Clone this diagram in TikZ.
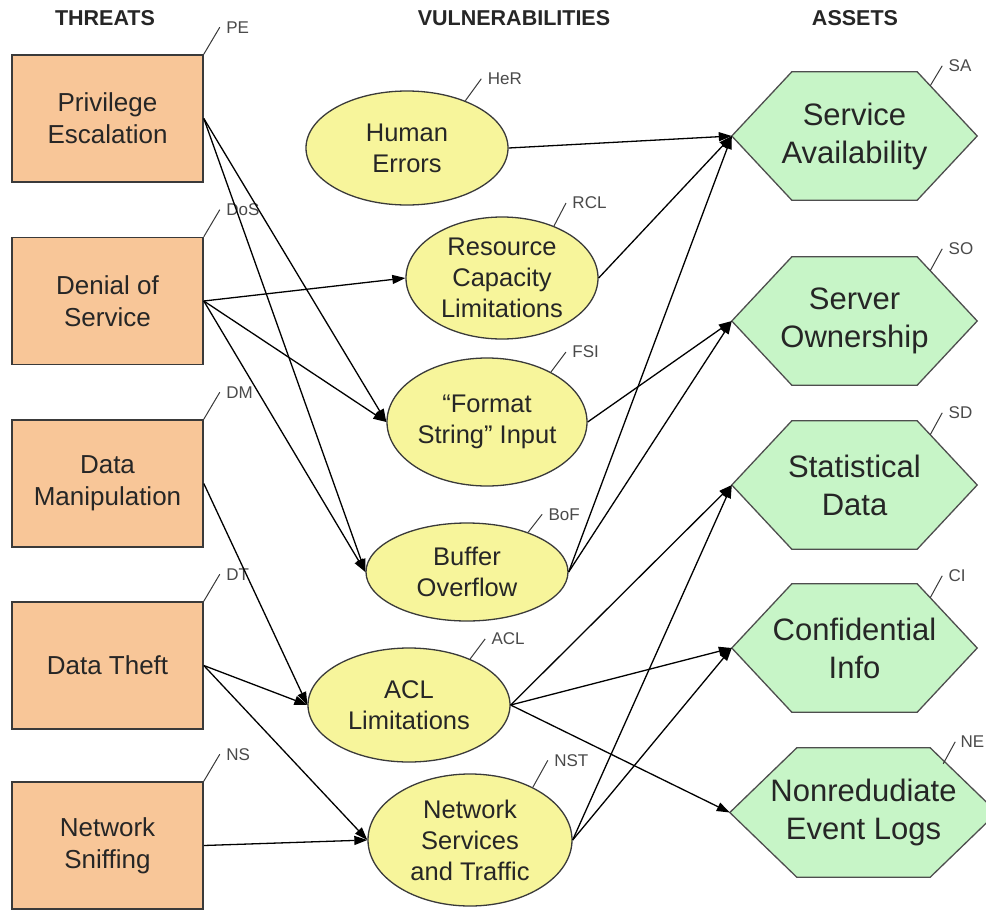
\documentclass[tikz,border=0pt]{standalone}
\usepackage{fontspec}
\setmainfont{Liberation Sans}
\usetikzlibrary{arrows.meta,backgrounds,shapes.geometric}
\definecolor{threatfill}{HTML}{F8C698}
\definecolor{vulnfill}{HTML}{F7F59B}
\definecolor{assetfill}{HTML}{C7F5C7}
\definecolor{edgegray}{HTML}{3A3A3A}
\definecolor{tagtextcol}{HTML}{4A4A4A}
\newcommand{\hexdraw}[2]{\draw[hexshape] (#1.west) -- ([xshift=#2]#1.north west) -- ([xshift=-#2]#1.north east) -- (#1.east) -- ([xshift=-#2]#1.south east) -- ([xshift=#2]#1.south west) -- cycle;}
\begin{document}
\begin{tikzpicture}[x=1pt,y=-1pt,
  threat/.style={draw=edgegray, line width=1.6pt, fill=threatfill, minimum width=191pt, minimum height=127pt, align=center, font=\fontsize{26}{32}\selectfont, inner sep=0pt, text=black!85},
  vuln/.style={ellipse, draw=edgegray, line width=1.3pt, fill=vulnfill, inner sep=-14pt, align=center, font=\fontsize{25.5}{31}\selectfont, text=black!85},
  asset/.style={minimum width=245pt, minimum height=128pt, inner sep=0pt, align=center, font=\fontsize{31}{38}\selectfont, text=black!85},
  hexshape/.style={draw=edgegray!90, line width=1.3pt, fill=assetfill},
  tagline/.style={draw=edgegray, line width=1pt},
  tagtext/.style={font=\fontsize{17}{17}\selectfont, text=tagtextcol, anchor=west, inner sep=0pt, xshift=6pt},
  header/.style={font=\bfseries\fontsize{21.5}{21.5}\selectfont, text=black!85},
  link/.style={draw=black, line width=1.3pt, -{Triangle[length=13pt,width=9pt]}},
]
\useasboundingbox (0,0) rectangle (986,911);
\begin{scope}[on background layer]
\fill[white] (0,0) rectangle (986,911);
\end{scope}

% headers
\node[header] (hT) at (105,18) {THREATS};
\node[header] (hV) at (514,18) {VULNERABILITIES};
\node[header] (hA) at (855,18) {ASSETS};

% threats
\node[threat] (PE) at (107.5,118.5) {Privilege\\Escalation};
\node[threat] (DoS) at (107.5,301) {Denial of\\Service};
\node[threat] (DM) at (107.5,483.5) {Data\\Manipulation};
\node[threat] (DT) at (107.5,665.5) {Data Theft};
\node[threat] (NS) at (107.5,845.5) {Network\\Sniffing};

% vulnerabilities
\node[vuln, minimum width=202pt, minimum height=114pt] (HeR) at (407,148) {Human\\Errors};
\node[vuln, minimum width=192pt, minimum height=122pt] (RCL) at (502,278) {Resource\\Capacity\\Limitations};
\node[vuln, minimum width=200pt, minimum height=128pt] (FSI) at (487,422) {“Format\\String” Input};
\node[vuln, minimum width=202pt, minimum height=98pt] (BoF) at (467,572) {Buffer\\Overflow};
\node[vuln, minimum width=202pt, minimum height=114pt] (ACL) at (409,705) {ACL\\Limitations};
\node[vuln, minimum width=204pt, minimum height=132pt] (NST) at (470,840) {Network\\Services\\and Traffic};

% assets
\node[asset] (SA) at (854.5,136) {Service\\Availability};
\node[asset] (SO) at (854.5,321) {Server\\Ownership};
\node[asset] (SD) at (854.5,485) {Statistical\\Data};
\node[asset] (CI) at (854.5,648) {Confidential\\Info};
\node[asset, minimum width=267pt, minimum height=129pt] (NE) at (863.5,812.5) {Nonredudiate\\Event Logs};
\begin{scope}[on background layer]
\hexdraw{SA}{60pt}
\hexdraw{SO}{60pt}
\hexdraw{SD}{60pt}
\hexdraw{CI}{60pt}
\hexdraw{NE}{67pt}
\end{scope}

% tags
\draw[tagline] (PE.north east) -- ++(16,-27) node[tagtext] (tPE) {PE};
\draw[tagline] (DoS.north east) -- ++(16,-27) node[tagtext] (tDoS) {DoS};
\draw[tagline] (DM.north east) -- ++(16,-27) node[tagtext] (tDM) {DM};
\draw[tagline] (DT.north east) -- ++(16,-27) node[tagtext] (tDT) {DT};
\draw[tagline] (NS.north east) -- ++(16,-27) node[tagtext] (tNS) {NS};
\draw[tagline] (HeR.39) -- ++(16,-22) node[tagtext] (tHeR) {HeR};
\draw[tagline] (RCL.45) -- ++(12,-23) node[tagtext] (tRCL) {RCL};
\draw[tagline] (FSI.38) -- ++(15,-20) node[tagtext] (tFSI) {FSI};
\draw[tagline] (BoF.33) -- ++(14,-18) node[tagtext] (tBoF) {BoF};
\draw[tagline] (ACL.37) -- ++(15,-20) node[tagtext] (tACL) {ACL};
\draw[tagline] (NST.40) -- ++(15,-27) node[tagtext] (tNST) {NST};
\draw[tagline] ([shift={(-47,14)}]SA.north east) -- ++(12,-20) node[tagtext] (tSA) {SA};
\draw[tagline] ([shift={(-47,14)}]SO.north east) -- ++(12,-22) node[tagtext] (tSO) {SO};
\draw[tagline] ([shift={(-47,14)}]SD.north east) -- ++(12,-22) node[tagtext] (tSD) {SD};
\draw[tagline] ([shift={(-47,14)}]CI.north east) -- ++(12,-22) node[tagtext] (tCI) {CI};
\draw[tagline] ([shift={(-54,16)}]NE.north east) -- ++(12,-22) node[tagtext, xshift=-1pt] (tNE) {NE};

% threat -> vulnerability
\draw[link] (PE.east) -- (FSI.west);
\draw[link] (PE.east) -- (BoF.west);
\draw[link] (DoS.east) -- (RCL.west);
\draw[link] (DoS.east) -- (FSI.west);
\draw[link] (DoS.east) -- (BoF.west);
\draw[link] (DM.east) -- (ACL.west);
\draw[link] (DT.east) -- (ACL.west);
\draw[link] (DT.east) -- (NST.west);
\draw[link] (NS.east) -- (NST.west);

% vulnerability -> asset
\draw[link] (HeR.east) -- (SA.west);
\draw[link] (RCL.east) -- (SA.west);
\draw[link] (BoF.east) -- (SA.west);
\draw[link] (FSI.east) -- (SO.west);
\draw[link] (BoF.east) -- (SO.west);
\draw[link] (ACL.east) -- (SD.west);
\draw[link] (NST.east) -- (SD.west);
\draw[link] (ACL.east) -- (CI.west);
\draw[link] (NST.east) -- (CI.west);
\draw[link] (ACL.east) -- (NE.west);
\end{tikzpicture}
\end{document}
